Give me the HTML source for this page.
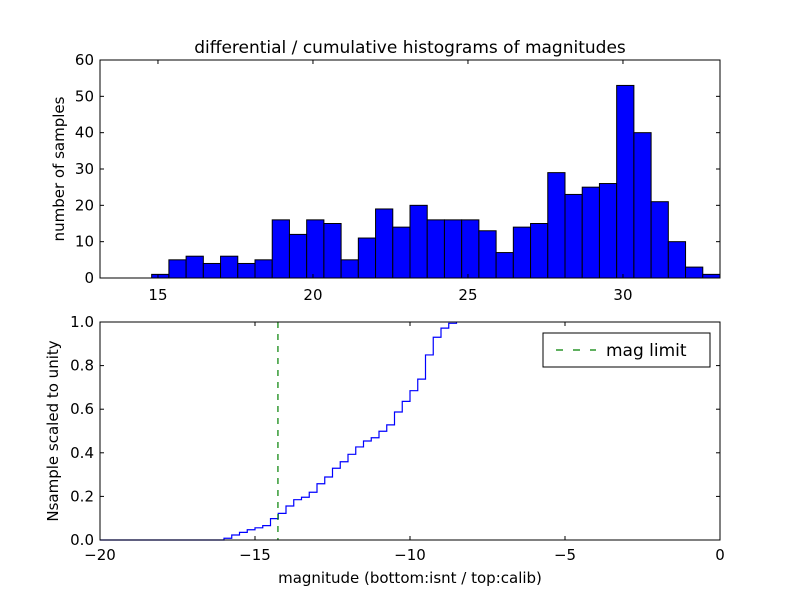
<!DOCTYPE html>
<html><head><meta charset="utf-8"><style>
body{margin:0;background:#fff}
svg text{font-family:"DejaVu Sans","Liberation Sans",sans-serif;fill:#000}
</style></head><body>
<svg id="chart" width="800" height="600" xmlns="http://www.w3.org/2000/svg">
<rect width="800" height="600" fill="#fff"/>
<text x="410" y="53" font-size="17" text-anchor="middle">differential / cumulative histograms of magnitudes</text>
<g id="topG"></g>
<g id="botG"></g>
<text x="410" y="583" font-size="15" text-anchor="middle">magnitude (bottom:isnt / top:calib)</text>
<text transform="translate(64,169) rotate(-90)" font-size="15" text-anchor="middle">number of samples</text>
<text transform="translate(58,431) rotate(-90)" font-size="15" text-anchor="middle">Nsample scaled to unity</text>
</svg>
<script>
const histCounts=[0,0,0,1,5,6,4,6,4,5,16,12,16,15,5,11,19,14,20,16,16,16,13,7,14,15,29,23,25,26,53,40,21,10,3,1];
const histMin=13.13, histMax=33.13;
const topXTicks=[15,20,25,30];
const topYTicks=[0,10,20,30,40,50,60];
const cumStart=-16.0, cumStep=0.25;
const cumFrac=[0.008,0.023,0.035,0.047,0.056,0.066,0.098,0.122,0.156,0.185,0.196,0.219,0.258,0.289,0.329,0.359,0.393,0.427,0.454,0.469,0.499,0.528,0.587,0.636,0.685,0.738,0.849,0.930,0.972,0.994,1.0];
const magLimit=-14.26;
const botXTicks=[-20,-15,-10,-5,0];
const botYTicks=[0,0.2,0.4,0.6,0.8,1.0];
const NS='http://www.w3.org/2000/svg';
function mk(p,t,a){const e=document.createElementNS(NS,t);for(const k in a)e.setAttribute(k,a[k]);p.appendChild(e);return e;}
const L=100,R=720;
const topG=document.getElementById('topG');
const tT=60,tB=278;
const tx=v=>L+(v-histMin)/(histMax-histMin)*(R-L);
const ty=v=>tB-v/60*(tB-tT);
const bw=(histMax-histMin)/histCounts.length;
histCounts.forEach((c,i)=>{
 if(c<=0) return;
 const x0=tx(histMin+i*bw),x1=tx(histMin+(i+1)*bw);
 const r=mk(topG,'rect',{x:x0,y:ty(c),width:x1-x0,height:tB-ty(c),fill:'#0000ff',stroke:'#000','stroke-width':1});
 
 
});
mk(topG,'rect',{x:L,y:tT,width:R-L,height:tB-tT,fill:'none',stroke:'#000','stroke-width':1});
topXTicks.forEach(v=>{const x=tx(v);
 mk(topG,'line',{x1:x,x2:x,y1:tB,y2:tB-4,stroke:'#000'});mk(topG,'line',{x1:x,x2:x,y1:tT,y2:tT+4,stroke:'#000'});
 const t=mk(topG,'text',{x:x,y:tB+22,'font-size':15,'text-anchor':'middle'});t.textContent=v;
 
 });
topYTicks.forEach(v=>{const y=ty(v);
 mk(topG,'line',{x1:L,x2:L+4,y1:y,y2:y,stroke:'#000'});mk(topG,'line',{x1:R,x2:R-4,y1:y,y2:y,stroke:'#000'});
 const t=mk(topG,'text',{x:L-6,y:y+5,'font-size':15,'text-anchor':'end'});t.textContent=v;
 
 });
const botG=document.getElementById('botG');
const bT=322,bB=540;
const bx=v=>L+(v+20)/20*(R-L);
const by=v=>bB-v*(bB-bT);
let d='M'+bx(-20)+','+by(0)+' L'+bx(cumStart)+','+by(0);
cumFrac.forEach((f,i)=>{const x0=bx(cumStart+i*cumStep),x1=bx(cumStart+(i+1)*cumStep);d+=' L'+x0+','+by(f);if(i<cumFrac.length-1)d+=' L'+x1+','+by(f);});
const cl=mk(botG,'path',{d:d,fill:'none',stroke:'#0000ff','stroke-width':1.2});


const ml=mk(botG,'line',{x1:bx(magLimit),x2:bx(magLimit),y1:bT,y2:bB,stroke:'#008000','stroke-width':1.2,'stroke-dasharray':'6,6'});


mk(botG,'rect',{x:L,y:bT,width:R-L,height:bB-bT,fill:'none',stroke:'#000','stroke-width':1});
botXTicks.forEach(v=>{const x=bx(v);
 mk(botG,'line',{x1:x,x2:x,y1:bB,y2:bB-4,stroke:'#000'});mk(botG,'line',{x1:x,x2:x,y1:bT,y2:bT+4,stroke:'#000'});
 const t=mk(botG,'text',{x:x,y:bB+20,'font-size':15,'text-anchor':'middle'});t.textContent=v<0?'\u2212'+(-v):v;
 
 });
botYTicks.forEach(v=>{const y=by(v);
 mk(botG,'line',{x1:L,x2:L+4,y1:y,y2:y,stroke:'#000'});mk(botG,'line',{x1:R,x2:R-4,y1:y,y2:y,stroke:'#000'});
 const t=mk(botG,'text',{x:L-6,y:y+5,'font-size':15,'text-anchor':'end'});t.textContent=v.toFixed(1);
 
 });
const lg=mk(botG,'g',{});


mk(lg,'rect',{x:543,y:333,width:167,height:34,fill:'#fff',stroke:'#000'});
mk(lg,'line',{x1:556,x2:596,y1:350,y2:350,stroke:'#008000','stroke-width':1.2,'stroke-dasharray':'7,10'});
const lt=mk(lg,'text',{x:606,y:356,'font-size':17});lt.textContent='mag limit';


</script>
</body></html>
